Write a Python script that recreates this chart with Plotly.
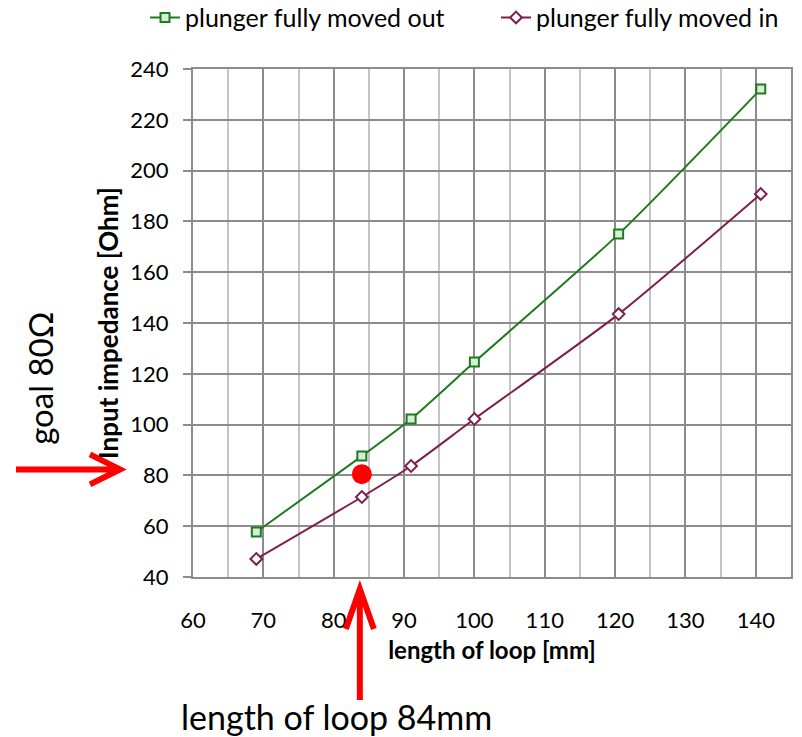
import plotly.graph_objects as go

# ---- data ----
loop_length_mm = [69, 84, 91, 100, 120.5, 140.7]
impedance_out = [57.7, 87.6, 102.2, 124.6, 175.0, 232.1]
impedance_in = [47.1, 71.5, 83.7, 102.2, 143.5, 190.8]
series_names = ["plunger fully moved out", "plunger fully moved in"]
goal_x = [84]
goal_y = [80.5]
x_ticks = [60, 70, 80, 90, 100, 110, 120, 130, 140]
y_ticks = [40, 60, 80, 100, 120, 140, 160, 180, 200, 220, 240]

GREEN = "#1e7b1e"
PURPLE = "#7f1f50"
FONT = "Lato"

fig = go.Figure()
fig.add_trace(go.Scatter(
    x=loop_length_mm, y=impedance_out, name=series_names[0],
    mode="lines+markers", legend="legend",
    line=dict(color=GREEN, width=2, shape="spline", smoothing=0.6),
    marker=dict(symbol="square", size=9, color="#d9ecd9",
                line=dict(color=GREEN, width=2)),
))
fig.add_trace(go.Scatter(
    x=loop_length_mm, y=impedance_in, name=series_names[1],
    mode="lines+markers", legend="legend2",
    line=dict(color=PURPLE, width=2, shape="spline", smoothing=0.6),
    marker=dict(symbol="diamond", size=9, color="white",
                line=dict(color=PURPLE, width=2)),
))
fig.add_trace(go.Scatter(
    x=goal_x, y=goal_y, mode="markers", showlegend=False,
    marker=dict(symbol="circle", size=20, color="#ff0000"),
))

RED = "#ff0000"
# vertical arrow at x = 84 mm (pixel-sized path anchored at data x, bottom of plot)
fig.add_shape(type="path", xref="x", yref="paper", xsizemode="pixel", ysizemode="pixel",
              xanchor=goal_x[0], yanchor=0,
              path="M -2,-123 L -2,-12 M -16,-52 L -2,-12 L 12,-52",
              line=dict(color=RED, width=6))
# horizontal arrow at y = 80 Ohm
fig.add_shape(type="path", xref="paper", yref="y", xsizemode="pixel", ysizemode="pixel",
              xanchor=0, yanchor=80,
              path="M -177,6 L -73,6 M -103,21 L -73,6 L -103,-9",
              line=dict(color=RED, width=6))

fig.add_annotation(text="goal 80\u03a9", xref="paper", yref="paper",
                   x=-0.256, xanchor="center", y=0.392, yanchor="middle",
                   showarrow=False, textangle=-90,
                   font=dict(family=FONT, size=33, color="black"))
fig.add_annotation(text="length of loop 84mm", xref="paper", yref="paper",
                   x=-0.024, xanchor="left", y=-0.274, yanchor="middle", showarrow=False,
                   font=dict(family=FONT, size=34, color="black"))

leg_common = dict(orientation="h", xref="container", yref="container",
                  xanchor="left", y=0.976, yanchor="middle",
                  font=dict(family=FONT, size=25), itemwidth=30,
                  bgcolor="rgba(0,0,0,0)")

fig.update_layout(
    width=802, height=737,
    margin=dict(l=193, r=11, t=69, b=160, autoexpand=False),
    paper_bgcolor="white", plot_bgcolor="white",
    font=dict(family=FONT, size=22, color="black"),
    showlegend=True,
    legend=dict(x=(155 - 10) / 802, **leg_common),
    legend2=dict(x=(506 - 10) / 802, **leg_common),
    xaxis=dict(
        range=[60, 145], tickmode="array", tickvals=x_ticks,
        showgrid=True, gridcolor="#8c8c8c", gridwidth=1.5,
        minor=dict(dtick=5, tick0=60, showgrid=True, gridcolor="#c4c4c4", gridwidth=1.5),
        showline=True, linecolor="#8c8c8c", linewidth=2, mirror=True,
        ticks="", ticklabelstandoff=23, zeroline=False,
        title=dict(text="<b>length of loop [mm]</b>", font=dict(family=FONT, size=24), standoff=10),
    ),
    yaxis=dict(
        range=[40, 240], tickmode="array", tickvals=y_ticks,
        showgrid=True, gridcolor="#8c8c8c", gridwidth=1.5,
        showline=True, linecolor="#8c8c8c", linewidth=2, mirror=True,
        ticks="outside", ticklen=8, tickcolor="#8c8c8c", tickwidth=1.5,
        ticklabelstandoff=10, zeroline=False,
        title=dict(text="<b>Input impedance [Ohm]</b>", font=dict(family=FONT, size=26), standoff=4),
    ),
)

fig.write_html("out.html")
